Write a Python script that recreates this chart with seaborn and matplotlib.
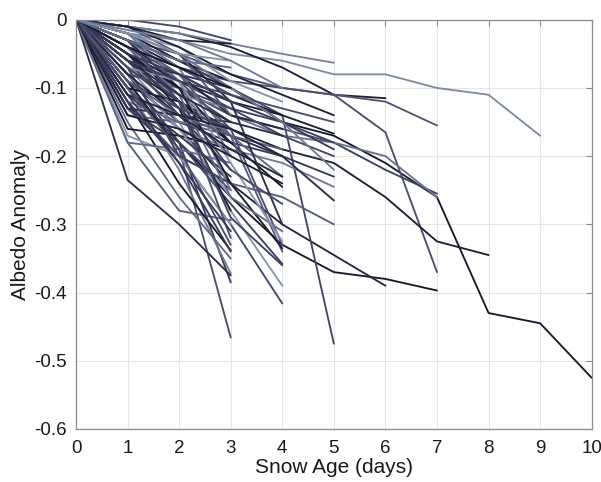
import numpy as np
import pandas as pd
import matplotlib
matplotlib.use("Agg")
import matplotlib.pyplot as plt
import seaborn as sns

# albedo anomaly per day of snow age, one list per snowfall event (day 0 = 0)
series = [
    [0, -0.02, -0.03, -0.05, -0.06, -0.08, -0.08, -0.10, -0.11, -0.17],
    [0, -0.03, -0.06, -0.10, -0.15, -0.17, -0.21, -0.26, -0.43, -0.445, -0.525],
    [0, -0.01, -0.02, -0.04, -0.07, -0.11, -0.115],
    [0, -0.03, -0.05, -0.08, -0.10, -0.11, -0.12, -0.155],
    [0, -0.04, -0.07, -0.09, -0.10, -0.11, -0.165, -0.37],
    [0, -0.05, -0.09, -0.13, -0.15, -0.18, -0.22, -0.255],
    [0, -0.06, -0.10, -0.14, -0.17, -0.18, -0.20, -0.26],
    [0, -0.07, -0.12, -0.16, -0.19, -0.21, -0.26, -0.325, -0.345],
    [0, -0.10, -0.18, -0.26, -0.33, -0.37, -0.38, -0.397],
    [0, -0.08, -0.16, -0.24, -0.30, -0.345, -0.39],
    [0, -0.03, -0.06, -0.10, -0.14, -0.475],
    [0, -0.01, -0.02, -0.035, -0.05, -0.063],
    [0, -0.05, -0.09, -0.12, -0.14, -0.167],
    [0, -0.06, -0.10, -0.14, -0.16, -0.18],
    [0, -0.09, -0.15, -0.18, -0.20, -0.23],
    [0, -0.10, -0.16, -0.19, -0.21, -0.245],
    [0, -0.07, -0.12, -0.17, -0.20, -0.265],
    [0, -0.12, -0.20, -0.24, -0.26, -0.30],
    [0, -0.06, -0.12, -0.18, -0.245],
    [0, -0.05, -0.11, -0.17, -0.23],
    [0, -0.10, -0.18, -0.27, -0.358],
    [0, -0.07, -0.15, -0.28, -0.39],
    [0, -0.13, -0.20, -0.30, -0.416],
    [0, -0.04, -0.08, -0.14, -0.16],
    [0, -0.03, -0.07, -0.11, -0.14],
    [0, -0.09, -0.19, -0.466],
    [0, -0.08, -0.18, -0.385],
    [0, -0.10, -0.22, -0.372],
    [0, -0.235, -0.30, -0.375],
    [0, -0.18, -0.28, -0.294],
    [0, -0.12, -0.24, -0.338],
    [0, -0.15, -0.26, -0.35],
    [0, -0.13, -0.18, -0.25],
    [0, -0.17, -0.20, -0.30],
    [0, 0.0, -0.01, -0.03],
    [0, -0.01, -0.03, -0.035],
    [0, -0.02, -0.06, -0.09],
    [0, -0.04, -0.08, -0.12],
    [0, -0.05, -0.10, -0.15],
    [0, -0.07, -0.11, -0.13],
    [0, -0.13, -0.14, -0.15],
    [0, -0.14, -0.15, -0.17],
    [0, -0.16, -0.17, -0.19],
    [0, -0.18, -0.19, -0.21],
    [0, -0.06, -0.14, -0.22],
    [0, -0.08, -0.16, -0.26],
    [0, -0.09, -0.13, -0.20],
    [0, -0.03, -0.10, -0.18],
    [0, -0.05, -0.13, -0.28],
    [0, -0.04, -0.12, -0.32],
    [0, -0.11, -0.17, -0.23],
    [0, -0.02, -0.09, -0.25],
    [0, -0.06, -0.08, -0.10],
    [0, -0.01, -0.05, -0.14],
    [0, -0.10, -0.12, -0.18],
    [0, -0.12, -0.15, -0.16],
    [0, -0.07, -0.20, -0.24],
    [0, -0.02, -0.04, -0.09, -0.12],
    [0, -0.08, -0.10, -0.13, -0.17, -0.20],
    [0, -0.05, -0.11],
    [0, -0.09, -0.19],
    [0, -0.04, -0.09, -0.16, -0.33],
    [0, -0.11, -0.21, -0.34],
    [0, -0.02, -0.07, -0.20],
    [0, -0.02, -0.05, -0.12, -0.30],
    [0, -0.03, -0.08, -0.17, -0.34],
    [0, -0.05, -0.10, -0.24, -0.335],
    [0, -0.04, -0.11, -0.26, -0.31],
    [0, -0.06, -0.12, -0.29, -0.36],
    [0, -0.07, -0.09, -0.21, -0.325],
    [0, -0.03, -0.12, -0.22, -0.27],
    [0, -0.08, -0.14, -0.19, -0.23],
    [0, -0.01, -0.04, -0.08, -0.11, -0.14],
    [0, -0.04, -0.07, -0.11, -0.13, -0.15],
    [0, -0.05, -0.08, -0.12, -0.15, -0.19],
    [0, -0.02, -0.05, -0.10, -0.15, -0.22],
    [0, -0.06, -0.11, -0.15, -0.17],
    [0, -0.09, -0.14, -0.17, -0.19],
    [0, -0.04, -0.07, -0.10],
    [0, -0.03, -0.06, -0.07],
    [0, -0.06, -0.09, -0.11],
    [0, -0.02, -0.05, -0.06],
    [0, -0.07, -0.13, -0.16],
    [0, -0.11, -0.14, -0.16, -0.20],
    [0, -0.14, -0.16, -0.20, -0.24],
    [0, -0.10, -0.19, -0.33],
    [0, -0.12, -0.21, -0.31],
    [0, -0.015, -0.03, -0.06, -0.10],
]

xticks = list(range(0, 11))
yticks = [0, -0.1, -0.2, -0.3, -0.4, -0.5, -0.6]
ytick_labels = ["0", "-0.1", "-0.2", "-0.3", "-0.4", "-0.5", "-0.6"]

rows = []
for i, s in enumerate(series):
    for day, v in enumerate(s):
        rows.append({"event": i, "day": day, "anomaly": v})
df = pd.DataFrame(rows)

# line tone: 0 = near black, 1 = light steel blue
n = len(series)
tone_cycle = [0.1, 0.45, 0.3, 0.75, 0.2, 0.55, 0.05, 0.65, 0.35, 0.9, 0.4, 0.15]
tone = [tone_cycle[i % len(tone_cycle)] for i in range(n)]
tone[:12] = [0.85, 0.05, 0.1, 0.5, 0.45, 0.35, 0.7, 0.1, 0.05, 0.15, 0.4, 0.8]
shades = sns.blend_palette(["#141426", "#3d3f5e", "#646d88", "#93a5b8"], 101)
palette = {i: shades[int(round(tone[i] * 100))] for i in range(n)}

sns.set_style("white")
plt.rcParams["font.family"] = ["Liberation Sans", "DejaVu Sans"]
plt.rcParams["axes.unicode_minus"] = False

fig = plt.figure(figsize=(6.01, 4.82), dpi=100)
ax = fig.add_axes([0.1265, 0.11, 0.858, 0.849])
sns.lineplot(data=df, x="day", y="anomaly", hue="event", palette=palette,
             estimator=None, sort=False, legend=False, linewidth=1.35, ax=ax)

ax.set_xlim(0, 10)
ax.set_ylim(-0.6, 0)
ax.set_xticks(xticks)
ax.set_yticks(yticks)
ax.set_yticklabels(ytick_labels)
ax.grid(True, color="#e4e4e4", linewidth=0.8)
ax.set_axisbelow(True)
for sp in ax.spines.values():
    sp.set_color("#8a8a8a")
    sp.set_linewidth(0.9)
ax.tick_params(direction="in", length=4, width=0.8, color="#8a8a8a",
               top=True, right=True, labelsize=13.5, labelcolor="#1a1a1a")
ax.tick_params(axis="x", pad=8)
ax.tick_params(axis="y", pad=7)
ax.set_xlabel("Snow Age (days)", fontsize=15, color="#1a1a1a", labelpad=1)
ax.set_ylabel("Albedo Anomaly", fontsize=15, color="#1a1a1a", labelpad=3)

fig.savefig("out.png", dpi=100)
